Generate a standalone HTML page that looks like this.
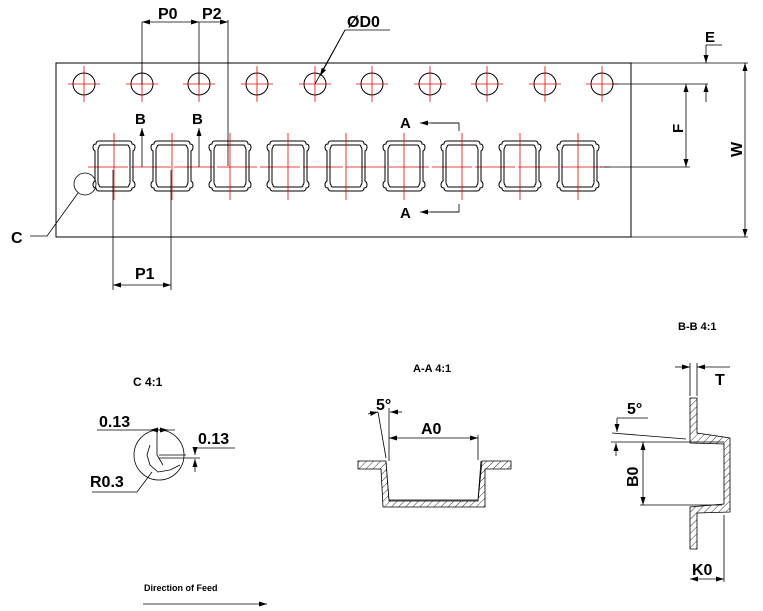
<!DOCTYPE html>
<html><head><style>body{margin:0;background:#fff}svg{display:block}text{font-family:"Liberation Sans",Arial,sans-serif;font-weight:bold;fill:#000}</style></head>
<body>
<svg width="763" height="611" viewBox="0 0 763 611" xmlns="http://www.w3.org/2000/svg">
<defs>
<pattern id="h" width="5" height="5" patternUnits="userSpaceOnUse" patternTransform="rotate(45)"><line x1="0" y1="0" x2="0" y2="5" stroke="#000" stroke-width="0.8"/></pattern>
<marker id="a" markerWidth="8" markerHeight="6" refX="8" refY="3" orient="auto-start-reverse" markerUnits="userSpaceOnUse"><path d="M0,0.5 L8,3 L0,5.5z" fill="#000"/></marker>
<g id="hole"><circle r="11" fill="none" stroke="#000" stroke-width="1"/><line x1="-16" y1="0" x2="16" y2="0" stroke="#e00" stroke-width="0.8"/><line x1="0" y1="-18" x2="0" y2="18" stroke="#e00" stroke-width="0.8"/></g>
<g id="pk"><path d="M-15,-25 H15 Q18,-25 18,-22 Q21,-22 21,-19 Q21,-16 19,-15 V15 Q21,16 21,19 Q21,22 18,22 Q18,25 15,25 H-15 Q-18,25 -18,22 Q-21,22 -21,19 Q-21,16 -19,15 V-15 Q-21,-16 -21,-19 Q-21,-22 -18,-22 Q-18,-25 -15,-25Z" fill="none" stroke="#000" stroke-width="1"/><path d="M-13,-21 H13 Q15,-21 15,-19 Q16,-18 16,-16 V16 Q16,18 15,19 Q15,21 13,21 H-13 Q-15,21 -15,19 Q-16,18 -16,16 V-16 Q-16,-18 -15,-19 Q-15,-21 -13,-21Z" fill="none" stroke="#000" stroke-width="1"/><line x1="0" y1="-33" x2="0" y2="34" stroke="#e00" stroke-width="0.8"/></g>
</defs>
<g stroke="#000" stroke-width="1" fill="none">
<rect x="56" y="63" width="575" height="174"/>
</g>
<use href="#hole" x="84" y="84"/><use href="#hole" x="142" y="84"/><use href="#hole" x="199" y="84"/><use href="#hole" x="257" y="84"/><use href="#hole" x="315" y="84"/><use href="#hole" x="372" y="84"/><use href="#hole" x="430" y="84"/><use href="#hole" x="487" y="84"/><use href="#hole" x="545" y="84"/><use href="#hole" x="602" y="84"/>
<line x1="88" y1="167" x2="610" y2="167" stroke="#e00" stroke-width="0.8" stroke-dasharray="40,3"/>
<use href="#pk" x="114" y="166"/><use href="#pk" x="172" y="166"/><use href="#pk" x="230" y="166"/><use href="#pk" x="288" y="166"/><use href="#pk" x="346" y="166"/><use href="#pk" x="404" y="166"/><use href="#pk" x="462" y="166"/><use href="#pk" x="520" y="166"/><use href="#pk" x="578" y="166"/>
<g stroke="#000" stroke-width="0.8" fill="none">
<line x1="142" y1="22" x2="142" y2="84"/><line x1="199" y1="22" x2="199" y2="84"/><line x1="228" y1="20" x2="228" y2="166"/>
<line x1="142" y1="22" x2="199" y2="22" marker-start="url(#a)" marker-end="url(#a)"/>
<line x1="199" y1="22" x2="228" y2="22" marker-end="url(#a)"/>
<path d="M142,167 V128" marker-end="url(#a)"/><path d="M199,167 V128" marker-end="url(#a)"/>
<line x1="113" y1="170" x2="113" y2="290"/><line x1="171" y1="170" x2="171" y2="290"/>
<line x1="113" y1="285" x2="171" y2="285" marker-start="url(#a)" marker-end="url(#a)"/>
<circle cx="85" cy="184" r="11"/><path d="M78,193 L47,236 H30"/>
<path d="M315,84 L345,30 H390" /><path d="M345,30 L320,76" marker-end="url(#a)"/>
<path d="M431,123 H459 V131" /><path d="M459,123 H420" marker-end="url(#a)"/>
<path d="M431,212 H459 V204" /><path d="M459,212 H420" marker-end="url(#a)"/>
<line x1="631" y1="63" x2="748" y2="63"/><line x1="631" y1="237" x2="748" y2="237"/>
<line x1="612" y1="84" x2="708" y2="84"/><line x1="600" y1="167" x2="690" y2="167"/>
<line x1="745" y1="63" x2="745" y2="237" marker-start="url(#a)" marker-end="url(#a)"/>
<line x1="686" y1="84" x2="686" y2="167" marker-start="url(#a)" marker-end="url(#a)"/>
<line x1="706" y1="45" x2="706" y2="63" marker-end="url(#a)"/><line x1="706" y1="102" x2="706" y2="84" marker-end="url(#a)"/>
<line x1="706" y1="45" x2="722" y2="45"/>
</g>
<text x="158" y="19" font-size="16">P0</text><text x="202" y="19" font-size="16">P2</text>
<text x="135" y="124" font-size="15">B</text><text x="192" y="124" font-size="15">B</text>
<text x="135" y="279" font-size="16">P1</text><text x="11" y="243" font-size="16">C</text>
<text x="347" y="27" font-size="16">ØD0</text>
<text x="400" y="128" font-size="15">A</text><text x="400" y="218" font-size="15">A</text>
<text x="705" y="42" font-size="15">E</text>
<text x="683" y="133" font-size="15" transform="rotate(-90 683 133)">F</text>
<text x="742" y="157" font-size="16" transform="rotate(-90 742 157)">W</text>
<!-- C detail -->
<text x="133" y="386" font-size="12">C  4:1</text>
<g stroke="#000" stroke-width="0.8" fill="none">
<circle cx="159" cy="455" r="25"/>
<path d="M150,445 L147,455 L150,465 L158,472 L170,470 L180,465"/>
<path d="M157,432 V455 L163,465"/><line x1="159" y1="455" x2="186" y2="455"/><line x1="159" y1="458" x2="200" y2="458"/>
<path d="M97,430 H175"/><line x1="157" y1="430" x2="150" y2="430" marker-end="url(#a)"/><line x1="160" y1="430" x2="168" y2="430" marker-end="url(#a)"/>
<path d="M195,448 H235"/><line x1="195" y1="448" x2="195" y2="455" marker-end="url(#a)"/><line x1="195" y1="472" x2="195" y2="459" marker-end="url(#a)"/>
<path d="M92,492 H137 L152,472"/>
</g>
<text x="99" y="427" font-size="16">0.13</text><text x="198" y="444" font-size="16">0.13</text><text x="90" y="487" font-size="16">R0.3</text>
<text x="144" y="591" font-size="9">Direction of Feed</text>
<line x1="143" y1="604" x2="267" y2="604" stroke="#000" stroke-width="0.8" marker-end="url(#a)"/>
<!-- A-A -->
<text x="413" y="372" font-size="11">A-A 4:1</text>
<path d="M358,461 H386 L389,501 H478 L482,461 H511 V469 H485 L485,507 H383 L381,469 H358 Z" fill="url(#h)" stroke="#000" stroke-width="0.8"/>
<path d="M386,461 L389,500 H478 L481,461" fill="#fff" stroke="#000" stroke-width="0.8"/>
<g stroke="#000" stroke-width="0.8" fill="none">
<line x1="389" y1="408" x2="389" y2="461"/><line x1="378" y1="412" x2="386" y2="458"/><line x1="478" y1="435" x2="478" y2="460"/>
<line x1="389" y1="438" x2="478" y2="438" marker-start="url(#a)" marker-end="url(#a)"/>
<line x1="368" y1="414" x2="378" y2="412" marker-end="url(#a)"/><line x1="402" y1="412" x2="390" y2="412" marker-end="url(#a)"/>
</g>
<text x="376" y="410" font-size="16">5°</text><text x="421" y="434" font-size="16">A0</text>
<!-- B-B -->
<text x="678" y="330" font-size="11">B-B 4:1</text>
<path d="M690,398 H697 V433 L730,438 V512 L697,513 V549 H690 V507 L724,504 V444 L690,443 Z" fill="url(#h)" stroke="#000" stroke-width="0.8"/>
<g stroke="#000" stroke-width="0.8" fill="none">
<line x1="690" y1="363" x2="690" y2="396"/><line x1="697" y1="363" x2="697" y2="396"/>
<line x1="675" y1="367" x2="690" y2="367" marker-end="url(#a)"/><line x1="730" y1="367" x2="697" y2="367" marker-end="url(#a)"/>
<line x1="611" y1="442" x2="724" y2="442"/><line x1="640" y1="505" x2="722" y2="505"/>
<line x1="612" y1="433" x2="686" y2="439"/><path d="M617,418 V432" marker-end="url(#a)"/><path d="M617,418 H648"/><path d="M616,456 V443" marker-end="url(#a)"/>
<line x1="643" y1="442" x2="643" y2="505" marker-start="url(#a)" marker-end="url(#a)"/>
<line x1="724" y1="515" x2="724" y2="582"/>
<line x1="690" y1="579" x2="724" y2="579" marker-start="url(#a)" marker-end="url(#a)"/>
</g>
<text x="715" y="385" font-size="16">T</text><text x="627" y="414" font-size="16">5°</text>
<text x="638" y="487" font-size="16" transform="rotate(-90 638 487)">B0</text>
<text x="692" y="575" font-size="16">K0</text>
</svg>
</body></html>
